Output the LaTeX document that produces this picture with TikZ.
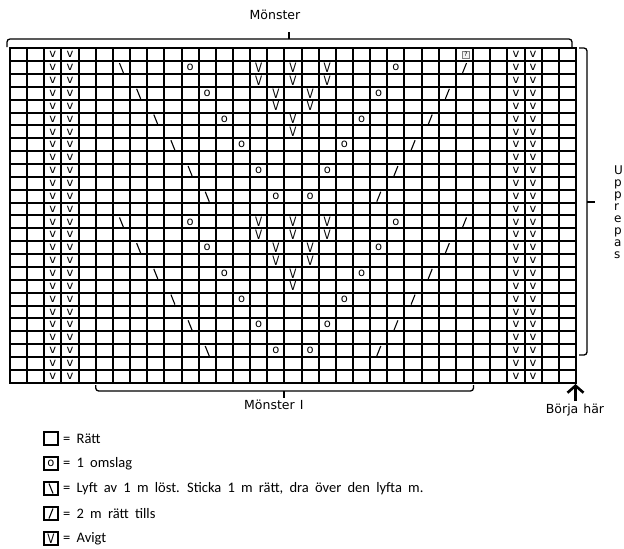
\documentclass[tikz,border=0pt]{standalone}
\usepackage{fontspec}
\setmainfont{DejaVu Sans}
\newfontfamily\legfont[WordSpace=1.9]{Carlito}
\usetikzlibrary{arrows.meta}
\def\knitcw{17.1515}
\def\knitrh{12.8615}
\begin{document}
\begin{tikzpicture}[x=1pt,y=-1pt,
  gridline/.style={line width=1.8pt},
  frameline/.style={line width=2pt},
  bracket/.style={line width=1.3pt, rounded corners=3pt},
  smallv/.style={inner sep=0pt, font=\fontsize{11.5}{12}\selectfont},
  bigv/.style={inner sep=0pt, font=\fontsize{13}{13}\selectfont},
  slashline/.style={line width=1.1pt},
  lbl/.style={inner sep=0pt, font=\fontsize{12.5}{13}\selectfont},
  legbox/.style={draw, line width=1.9pt, minimum width=14pt, minimum height=12.5pt, inner sep=0pt},
  legtext/.style={inner sep=0pt, anchor=west, font=\legfont\fontsize{14.5}{16}\selectfont},
]
\useasboundingbox (0,0) rectangle (624,549);

% grid
\foreach \i in {0,...,33}
  \draw[gridline] ({round(10+\i*\knitcw)},48) -- ({round(10+\i*\knitcw)},383);
\foreach \j in {0,...,26}
  \draw[gridline] (10,{round(48.3+\j*\knitrh)}) -- (576,{round(48.3+\j*\knitrh)});
\draw[frameline] (10,48) rectangle (576,383);

% edge columns of v
\foreach \r in {1,...,26}
  \foreach \c in {3,4,30,31}
    \node[smallv] (v-\r-\c) at ({10+(\c-0.5)*\knitcw},{48.3+(\r-0.5)*\knitrh}) {v};

% pattern
\foreach \k in {0,12} {
  \foreach \i in {1,...,6} {
    \pgfmathtruncatemacro\rr{2*\i+\k}
    \pgfmathtruncatemacro\ca{6+\i}
    \pgfmathtruncatemacro\cb{10+\i}
    \pgfmathtruncatemacro\cc{24-\i}
    \pgfmathtruncatemacro\cd{28-\i}
    \draw[slashline] ({10+(\ca-0.5)*\knitcw-2},{48.3+(\rr-0.5)*\knitrh-4.5}) -- ++(4,10);
    \node[smallv] (o-\rr-\cb) at ({10+(\cb-0.5)*\knitcw},{48.3+(\rr-0.5)*\knitrh}) {o};
    \node[smallv] (o-\rr-\cc) at ({10+(\cc-0.5)*\knitcw},{48.3+(\rr-0.5)*\knitrh}) {o};
    \draw[slashline] ({10+(\cd-0.5)*\knitcw+2},{48.3+(\rr-0.5)*\knitrh-4.5}) -- ++(-4,10);
  }
  \foreach \r/\c in {2/15,2/17,2/19,3/15,3/17,3/19,4/16,4/18,5/16,5/18,6/17,7/17} {
    \pgfmathtruncatemacro\rr{\r+\k}
    \node[bigv] (V-\rr-\c) at ({10+(\c-0.5)*\knitcw},{48.3+(\rr-0.5)*\knitrh}) {\scalebox{0.8}[1]{V}};
  }
}

% missing glyph in top row
\node[draw=gray, fill=gray!10, line width=0.5pt, inner sep=0.4pt, minimum size=7pt,
      font=\fontsize{6}{6}\selectfont] (tofu) at (466,54.5) {?};

% top bracket
\draw[bracket] (7,47) -- (7,39) -- (572,39) -- (572,47);
\draw[line width=1.3pt] (289,39) -- (289,32);
\node[lbl] (toplabel) at (275,15) {Mönster};

% right bracket
\draw[bracket] (579,48) -- (587,48) -- (587,355) -- (579,355);
\draw[line width=1.3pt] (587,202) -- (595,202);
\node[lbl, anchor=north west, align=left, font=\fontsize{12}{12}\selectfont] (rep) at (614,166)
  {U\\p\\p\\r\\e\\p\\a\\s};

% bottom bracket
\draw[bracket] (95.7,385) -- (95.7,391) -- (473.5,391) -- (473.5,385);
\draw[line width=1.3pt] (284,391) -- (284,398);
\node[lbl, anchor=west] (botlabel) at (244,405) {Mönster\hspace{5pt}I};

% start arrow
\coordinate (corner) at (575.5,384);
\node[lbl] (start) at (575,410) {Börja\hspace{5pt}här};
\draw[line width=2.6pt, -{Straight Barb[length=7pt,width=16pt]}] (575.5,401) -- (corner);

% legend
\node[legbox] (k1) at (51,438.5) {};
\node[legtext] (t1) at (63,438.5) {= Rätt};
\node[legbox] (k2) at (51,463.5) {};
\node[smallv] (k2o) at (k2) {o};
\node[legtext] (t2) at (63,463.5) {= 1 omslag};
\node[legbox] (k3) at (51,488.5) {};
\draw[slashline] (49,483.5) -- (53,493.5);
\node[legtext] (t3) at (63,488.5) {= Lyft av 1 m löst. Sticka 1 m rätt, dra över den lyfta m.};
\node[legbox] (k4) at (51,513.5) {};
\draw[slashline] (53,508.5) -- (49,518.5);
\node[legtext] (t4) at (63,513.5) {= 2 m rätt tills};
\node[legbox] (k5) at (51,538.5) {};
\node[bigv] (k5v) at (k5) {\scalebox{0.8}[1]{V}};
\node[legtext] (t5) at (63,538.5) {= Avigt};
\end{tikzpicture}
\end{document}
